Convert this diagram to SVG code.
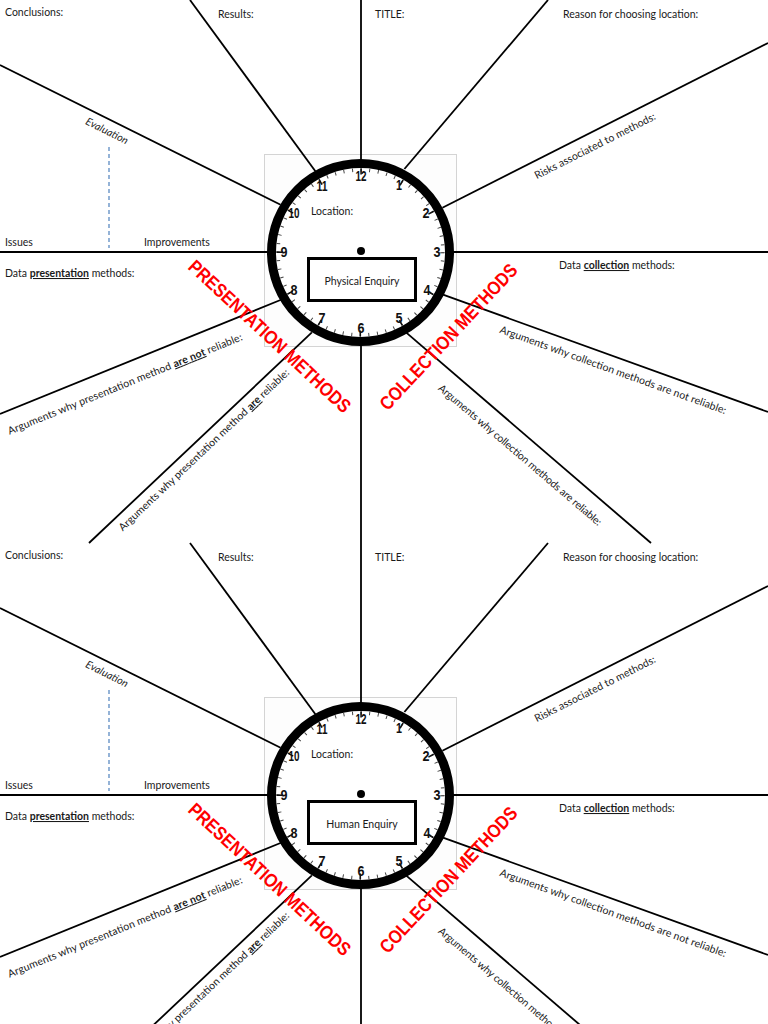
<svg xmlns="http://www.w3.org/2000/svg" width="768" height="1024" viewBox="0 0 768 1024">
<style>
.bg{fill:#ffffff}
.ln{stroke:#000;stroke-width:1.8;fill:none;stroke-linecap:butt}
.dash{stroke:#4f81bd;stroke-width:1.2;stroke-dasharray:4 3;fill:none}
.t{font-family:Lato,"Open Sans","Liberation Sans",sans-serif;font-size:10.5px;fill:#1a1a1a}
.b{font-weight:bold;text-decoration:underline}
.it{font-style:italic}
.red{font-family:"Liberation Sans",Arial,sans-serif;font-weight:bold;font-size:19px;fill:#ff0000}
.num{font-family:"Liberation Sans Narrow","Liberation Sans",sans-serif;font-weight:bold;font-size:14px;fill:#111;text-anchor:middle}
.frame{fill:#fdfdfd;stroke:#d4d4d4;stroke-width:1}
.face{fill:#fff}
.ring{fill:none;stroke:#000;stroke-width:9}
.mtick{fill:none;stroke:#444;stroke-width:3.5;stroke-dasharray:1 7.639;stroke-dashoffset:0.5}
.htick{fill:none;stroke:#111;stroke-width:6;stroke-dasharray:1.6 40.81;stroke-dashoffset:0.8}
.box{fill:#fff;stroke:#000;stroke-width:3}
</style>
<rect class="bg" x="0" y="0" width="768" height="1024"/>

<g id="panel-top">
  <rect id="frame-top" class="frame" x="264.5" y="154.5" width="192" height="192"/>
  <g id="connectors-top">
    <line class="ln" x1="361" y1="0" x2="361" y2="164"/>
    <line class="ln" x1="361" y1="342" x2="361" y2="543"/>
    <line class="ln" x1="0" y1="252" x2="272" y2="252"/>
    <line class="ln" x1="450" y1="252" x2="768" y2="252"/>
    <line class="ln" x1="190" y1="0" x2="315.4" y2="171.2"/>
    <line class="ln" x1="0" y1="65" x2="280.6" y2="204.8"/>
    <line class="ln" x1="548" y1="0" x2="404.4" y2="169"/>
    <line class="ln" x1="768" y1="43" x2="442.4" y2="207.8"/>
    <line class="ln" x1="768" y1="412" x2="440.2" y2="293.6"/>
    <line class="ln" x1="651" y1="543" x2="406" y2="332.4"/>
    <line class="ln" x1="0" y1="414" x2="281.7" y2="299.5"/>
    <line class="ln" x1="89" y1="543" x2="311.9" y2="332.3"/>
    <line class="dash" x1="109" y1="147" x2="109" y2="248"/>
  </g>
  <g id="labels-top">
    <text class="t" x="5" y="16">Conclusions:</text>
    <text class="t" x="218" y="18">Results:</text>
    <text class="t" x="375" y="18">TITLE:</text>
    <text class="t" x="563" y="18">Reason for choosing location:</text>
    <text class="t it" transform="translate(107,131) rotate(26.5)" y="3.5" text-anchor="middle" textLength="46">Evaluation</text>
    <text class="t" x="5" y="246">Issues</text>
    <text class="t" x="144" y="246">Improvements</text>
    <text class="t" x="5" y="277">Data <tspan class="b">presentation</tspan> methods:</text>
    <text class="t" x="559" y="269">Data <tspan class="b">collection</tspan> methods:</text>
    <text class="t" transform="translate(595,146) rotate(-26.8)" y="3.5" text-anchor="middle" textLength="134">Risks associated to methods:</text>
    <text class="t" transform="translate(613,370) rotate(19.9)" y="3.5" text-anchor="middle" textLength="240">Arguments why collection methods are not reliable:</text>
    <text class="t" transform="translate(520,455) rotate(40.5)" y="3.5" text-anchor="middle" textLength="211">Arguments why collection methods are reliable:</text>
    <text class="t" transform="translate(125,384) rotate(-22.1)" y="3.5" text-anchor="middle" textLength="252">Arguments why presentation method <tspan class="b">are not</tspan> reliable:</text>
    <text class="t" transform="translate(204,450) rotate(-43.4)" y="3.5" text-anchor="middle" textLength="230">Arguments why presentation method <tspan class="b">are</tspan> reliable:</text>
    <text class="red" transform="translate(270,336) rotate(43)" y="7" text-anchor="middle" textLength="214" lengthAdjust="spacingAndGlyphs">PRESENTATION METHODS</text>
    <text class="red" transform="translate(448,336.5) rotate(-47)" y="7" text-anchor="middle" textLength="192" lengthAdjust="spacingAndGlyphs">COLLECTION METHODS</text>
  </g>
  <g id="clock-top">
    <circle class="face" cx="360.5" cy="252.5" r="88"/>
    <circle class="mtick" cx="360.5" cy="252.5" r="82.5"/>
    <circle class="htick" cx="360.5" cy="252.5" r="81"/>
    <circle class="ring" cx="360.5" cy="252.5" r="89"/>
    <text class="num" x="361" y="181" textLength="11" lengthAdjust="spacingAndGlyphs">12</text>
    <text class="num" x="399" y="190" textLength="6" lengthAdjust="spacingAndGlyphs">1</text>
    <text class="num" x="426" y="218" textLength="7" lengthAdjust="spacingAndGlyphs">2</text>
    <text class="num" x="437" y="257" textLength="7" lengthAdjust="spacingAndGlyphs">3</text>
    <text class="num" x="427" y="295" textLength="7" lengthAdjust="spacingAndGlyphs">4</text>
    <text class="num" x="399" y="323" textLength="7" lengthAdjust="spacingAndGlyphs">5</text>
    <text class="num" x="361" y="333" textLength="7" lengthAdjust="spacingAndGlyphs">6</text>
    <text class="num" x="322" y="323" textLength="7" lengthAdjust="spacingAndGlyphs">7</text>
    <text class="num" x="294" y="295" textLength="7" lengthAdjust="spacingAndGlyphs">8</text>
    <text class="num" x="284" y="257" textLength="7" lengthAdjust="spacingAndGlyphs">9</text>
    <text class="num" x="294" y="218" textLength="11" lengthAdjust="spacingAndGlyphs">10</text>
    <text class="num" x="322" y="191" textLength="11" lengthAdjust="spacingAndGlyphs">11</text>
    <circle cx="361" cy="251" r="4" fill="#000"/>
    <text class="t" x="311" y="215">Location:</text>
  </g>
  <g id="enquiry-top">
    <rect class="box" x="308.5" y="258.5" width="107" height="42"/>
    <text class="t" x="362" y="285" text-anchor="middle">Physical Enquiry</text>
  </g>
</g>

<g id="panel-bottom" transform="translate(0,543)">
  <rect id="frame-bottom" class="frame" x="264.5" y="154.5" width="192" height="192"/>
  <g id="connectors-bottom">
    <line class="ln" x1="361" y1="0" x2="361" y2="164"/>
    <line class="ln" x1="361" y1="342" x2="361" y2="543"/>
    <line class="ln" x1="0" y1="252" x2="272" y2="252"/>
    <line class="ln" x1="450" y1="252" x2="768" y2="252"/>
    <line class="ln" x1="190" y1="0" x2="315.4" y2="171.2"/>
    <line class="ln" x1="0" y1="65" x2="280.6" y2="204.8"/>
    <line class="ln" x1="548" y1="0" x2="404.4" y2="169"/>
    <line class="ln" x1="768" y1="43" x2="442.4" y2="207.8"/>
    <line class="ln" x1="768" y1="412" x2="440.2" y2="293.6"/>
    <line class="ln" x1="651" y1="543" x2="406" y2="332.4"/>
    <line class="ln" x1="0" y1="414" x2="281.7" y2="299.5"/>
    <line class="ln" x1="89" y1="543" x2="311.9" y2="332.3"/>
    <line class="dash" x1="109" y1="147" x2="109" y2="248"/>
  </g>
  <g id="labels-bottom">
    <text class="t" x="5" y="16">Conclusions:</text>
    <text class="t" x="218" y="18">Results:</text>
    <text class="t" x="375" y="18">TITLE:</text>
    <text class="t" x="563" y="18">Reason for choosing location:</text>
    <text class="t it" transform="translate(107,131) rotate(26.5)" y="3.5" text-anchor="middle" textLength="46">Evaluation</text>
    <text class="t" x="5" y="246">Issues</text>
    <text class="t" x="144" y="246">Improvements</text>
    <text class="t" x="5" y="277">Data <tspan class="b">presentation</tspan> methods:</text>
    <text class="t" x="559" y="269">Data <tspan class="b">collection</tspan> methods:</text>
    <text class="t" transform="translate(595,146) rotate(-26.8)" y="3.5" text-anchor="middle" textLength="134">Risks associated to methods:</text>
    <text class="t" transform="translate(613,370) rotate(19.9)" y="3.5" text-anchor="middle" textLength="240">Arguments why collection methods are not reliable:</text>
    <text class="t" transform="translate(520,455) rotate(40.5)" y="3.5" text-anchor="middle" textLength="211">Arguments why collection methods are reliable:</text>
    <text class="t" transform="translate(125,384) rotate(-22.1)" y="3.5" text-anchor="middle" textLength="252">Arguments why presentation method <tspan class="b">are not</tspan> reliable:</text>
    <text class="t" transform="translate(204,450) rotate(-43.4)" y="3.5" text-anchor="middle" textLength="230">Arguments why presentation method <tspan class="b">are</tspan> reliable:</text>
    <text class="red" transform="translate(270,336) rotate(43)" y="7" text-anchor="middle" textLength="214" lengthAdjust="spacingAndGlyphs">PRESENTATION METHODS</text>
    <text class="red" transform="translate(448,336.5) rotate(-47)" y="7" text-anchor="middle" textLength="192" lengthAdjust="spacingAndGlyphs">COLLECTION METHODS</text>
  </g>
  <g id="clock-bottom">
    <circle class="face" cx="360.5" cy="252.5" r="88"/>
    <circle class="mtick" cx="360.5" cy="252.5" r="82.5"/>
    <circle class="htick" cx="360.5" cy="252.5" r="81"/>
    <circle class="ring" cx="360.5" cy="252.5" r="89"/>
    <text class="num" x="361" y="181" textLength="11" lengthAdjust="spacingAndGlyphs">12</text>
    <text class="num" x="399" y="190" textLength="6" lengthAdjust="spacingAndGlyphs">1</text>
    <text class="num" x="426" y="218" textLength="7" lengthAdjust="spacingAndGlyphs">2</text>
    <text class="num" x="437" y="257" textLength="7" lengthAdjust="spacingAndGlyphs">3</text>
    <text class="num" x="427" y="295" textLength="7" lengthAdjust="spacingAndGlyphs">4</text>
    <text class="num" x="399" y="323" textLength="7" lengthAdjust="spacingAndGlyphs">5</text>
    <text class="num" x="361" y="333" textLength="7" lengthAdjust="spacingAndGlyphs">6</text>
    <text class="num" x="322" y="323" textLength="7" lengthAdjust="spacingAndGlyphs">7</text>
    <text class="num" x="294" y="295" textLength="7" lengthAdjust="spacingAndGlyphs">8</text>
    <text class="num" x="284" y="257" textLength="7" lengthAdjust="spacingAndGlyphs">9</text>
    <text class="num" x="294" y="218" textLength="11" lengthAdjust="spacingAndGlyphs">10</text>
    <text class="num" x="322" y="191" textLength="11" lengthAdjust="spacingAndGlyphs">11</text>
    <circle cx="361" cy="251" r="4" fill="#000"/>
    <text class="t" x="311" y="215">Location:</text>
  </g>
  <g id="enquiry-bottom">
    <rect class="box" x="308.5" y="258.5" width="107" height="42"/>
    <text class="t" x="362" y="285" text-anchor="middle">Human Enquiry</text>
  </g>
</g>
</svg>
